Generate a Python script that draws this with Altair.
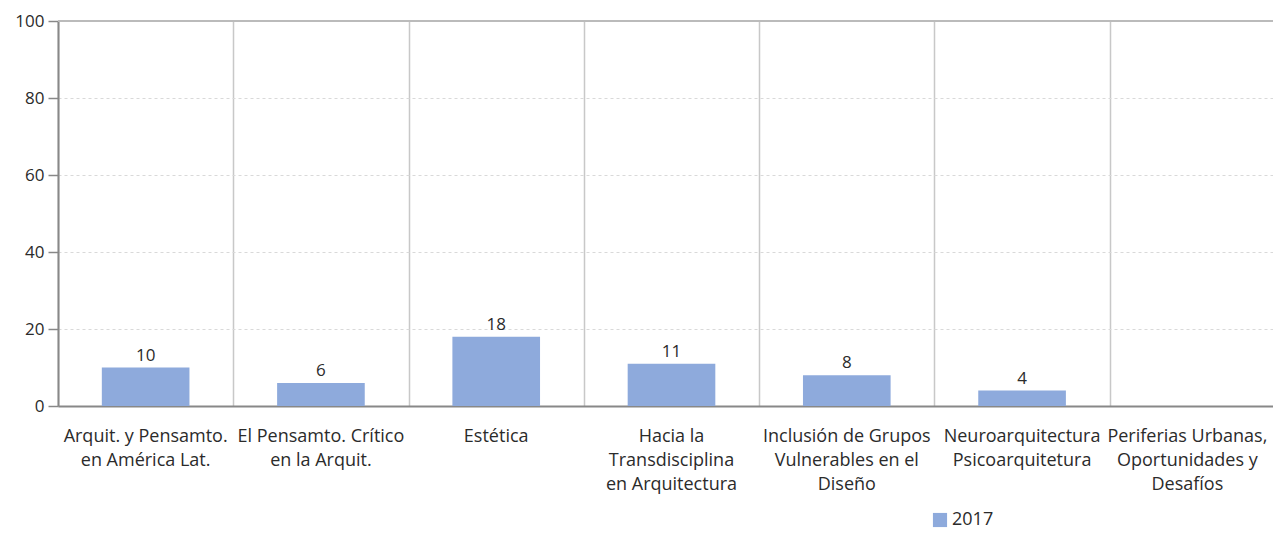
import altair as alt
import pandas as pd

categories = [
    "Arquit. y Pensamto.\nen América Lat.",
    "El Pensamto. Crítico\nen la Arquit.",
    "Estética",
    "Hacia la\nTransdisciplina\nen Arquitectura",
    "Inclusión de Grupos\nVulnerables en el\nDiseño",
    "Neuroarquitectura\nPsicoarquitetura",
    "Periferias Urbanas,\nOportunidades y\nDesafíos",
]
values_2017 = [10, 6, 18, 11, 8, 4, None]
series_name = "2017"
y_ticks = [0, 20, 40, 60, 80, 100]

df = pd.DataFrame({"cat": categories, "value": values_2017, "serie": series_name})
df["idx"] = range(len(categories))

FONT = "Open Sans"
BAR = "#8eaadc"
TXT = "#2b2b2b"

x = alt.X(
    "cat:N",
    sort=categories,
    title=None,
    scale=alt.Scale(paddingInner=0, paddingOuter=0, range=[0, 1227]),
    axis=alt.Axis(
        labels=False,
        ticks=False,
        tickBand="extent",
        grid=True,
        gridColor="#c8c8c8",
        gridWidth=1.5,
        domainColor="#888888",
        domainWidth=2,
    ),
)

y = alt.Y(
    "value:Q",
    title=None,
    scale=alt.Scale(domain=[0, 100], nice=False),
    axis=alt.Axis(
        values=y_ticks,
        labelFont=FONT,
        labelFontSize=17,
        labelColor=TXT,
        labelPadding=4,
        tickSize=10,
        tickColor="#888888",
        tickWidth=1.5,
        domainColor="#888888",
        domainWidth=2,
        grid=True,
        gridColor="#d9d9d9",
        gridDash=[3, 3],
        gridWidth=1,
    ),
)

bars = alt.Chart(df).mark_bar(color=BAR, width=alt.RelativeBandSize(0.5)).encode(
    x=x,
    y=y,
    color=alt.Color(
        "serie:N",
        scale=alt.Scale(range=[BAR]),
        legend=alt.Legend(
            title=None,
            orient="none",
            legendX=873,
            legendY=490,
            symbolType="square",
            symbolSize=200,
            symbolStrokeWidth=0,
            labelFont=FONT,
            labelFontSize=18,
            labelColor=TXT,
            labelOffset=3,
        ),
    ),
)

values_text = alt.Chart(df).mark_text(
    font=FONT, fontSize=17, color=TXT, baseline="bottom", dy=-3
).encode(x=alt.X("cat:N", sort=categories), y="value:Q", text="value:Q")

cat_style = dict(
    font=FONT, fontSize=18, color=TXT, baseline="top", align="center",
    lineBreak="\n", lineHeight=24,
)

cat_labels = (
    alt.Chart(df)
    .transform_filter("datum.idx < 6")
    .mark_text(**cat_style)
    .encode(x=alt.X("cat:N", sort=categories), y=alt.value(407), text="cat:N")
)

last_label = (
    alt.Chart(df)
    .transform_filter("datum.idx == 6")
    .mark_text(dx=-10, **cat_style)
    .encode(x=alt.X("cat:N", sort=categories), y=alt.value(407), text="cat:N")
)

top_line = alt.Chart(df).mark_rule(color="#bbbbbb", strokeWidth=2).encode(
    y=alt.datum(100)
)

chart = (
    alt.layer(bars, values_text, cat_labels, last_label, top_line)
    .properties(
        width=1215,
        height=385,
        autosize=alt.AutoSizeParams(type="none"),
        padding={"left": 50, "top": 13, "right": 0, "bottom": 123},
    )
    .configure_view(stroke=None)
)

chart.save("out.html", embed_options={"renderer": "svg", "actions": False})
